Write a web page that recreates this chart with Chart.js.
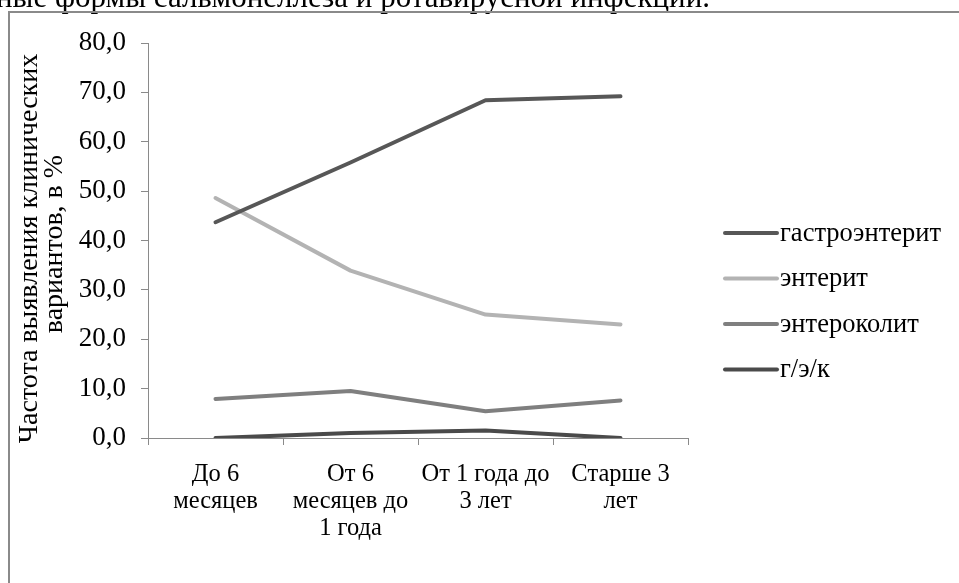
<!DOCTYPE html>
<html lang="ru">
<head>
<meta charset="utf-8">
<title>Клинические варианты по возрасту</title>
<script src="https://cdn.jsdelivr.net/npm/chart.js@4/dist/chart.umd.min.js"></script>
<style>
  html, body { margin: 0; padding: 0; background: #fff; }
  #wrap { position: relative; width: 959px; height: 583px; overflow: hidden; }
  canvas { display: block; }
</style>
</head>
<body>
<div id="wrap"><canvas id="c" width="959" height="583"></canvas></div>
<script>
// Age groups (x categories)
const categories = [
  ["До 6", "месяцев"],
  ["От 6", "месяцев до", "1 года"],
  ["От 1 года до", "3 лет"],
  ["Старше 3", "лет"]
];

// Frequency of clinical variants, %
const gastroenteritis = [43.7, 55.8, 68.4, 69.2];
const enteritis       = [48.6, 33.9, 25.0, 23.0];
const enterocolitis   = [7.9, 9.5, 5.4, 7.6];
const mixedGEK        = [0.0, 1.0, 1.5, 0.0];

const seriesNames = ["гастроэнтерит", "энтерит", "энтероколит", "г/э/к"];
const seriesColors = ["#575757", "#b3b3b3", "#7f7f7f", "#4a4a4a"];

// Y axis ticks
const yTicks = [0, 10, 20, 30, 40, 50, 60, 70, 80];

const yTitle = ["Частота выявления клинических", "вариантов, в %"];
const captionText = "ные формы сальмонеллеза и ротавирусной инфекции.";

const SERIF = "'Liberation Serif', 'DejaVu Serif', serif";

// Page frame and the caption line above it
const pageDecor = {
  id: 'pageDecor',
  beforeDraw(chart) {
    const ctx = chart.ctx;
    ctx.save();
    ctx.fillStyle = '#fff';
    ctx.fillRect(0, 0, chart.width, chart.height);
    ctx.fillStyle = '#000';
    ctx.font = "31px " + SERIF;
    ctx.textBaseline = 'alphabetic';
    ctx.textAlign = 'left';
    ctx.fillText(captionText, -4, 7);
    ctx.strokeStyle = '#8a8a8a';
    ctx.lineWidth = 2;
    ctx.beginPath();
    ctx.moveTo(9, chart.height + 2);
    ctx.lineTo(9, 12);
    ctx.lineTo(chart.width + 2, 12);
    ctx.stroke();
    ctx.restore();
  }
};

// Rotated two-line title of the value axis
const valueAxisTitle = {
  id: 'valueAxisTitle',
  afterDraw(chart) {
    const ctx = chart.ctx;
    const area = chart.chartArea;
    const midY = (area.top + area.bottom) / 2;
    const centers = [[30, midY + 8], [55, midY + 3.5]];
    ctx.save();
    ctx.font = "28px " + SERIF;
    ctx.fillStyle = '#000';
    ctx.textAlign = 'center';
    ctx.textBaseline = 'middle';
    yTitle.forEach((line, i) => {
      ctx.save();
      ctx.translate(centers[i][0], centers[i][1]);
      ctx.rotate(-Math.PI / 2);
      ctx.fillText(line, 0, 0);
      ctx.restore();
    });
    ctx.restore();
  }
};

// Legend drawn at the right side from the datasets
const sideLegend = {
  id: 'sideLegend',
  afterDraw(chart) {
    const ctx = chart.ctx;
    ctx.save();
    ctx.font = "26.5px " + SERIF;
    ctx.textBaseline = 'middle';
    ctx.textAlign = 'left';
    chart.data.datasets.forEach((ds, i) => {
      const y = 233 + i * 45.5;
      ctx.strokeStyle = ds.borderColor;
      ctx.lineWidth = 4;
      ctx.lineCap = 'round';
      ctx.beginPath();
      ctx.moveTo(725, y);
      ctx.lineTo(777, y);
      ctx.stroke();
      ctx.fillStyle = '#000';
      ctx.fillText(ds.label, 780, y + 1);
    });
    ctx.restore();
  }
};

const seriesData = [gastroenteritis, enteritis, enterocolitis, mixedGEK];

new Chart(document.getElementById('c'), {
  type: 'line',
  data: {
    labels: categories,
    datasets: seriesData.map((vals, i) => ({
      label: seriesNames[i],
      data: vals,
      borderColor: seriesColors[i],
      backgroundColor: seriesColors[i],
      borderWidth: 4,
      pointRadius: 0,
      pointHoverRadius: 0,
      tension: 0,
      borderCapStyle: 'round',
      borderJoinStyle: 'round',
      fill: false
    }))
  },
  options: {
    responsive: false,
    animation: false,
    events: [],
    layout: { padding: { top: 43, right: 271, bottom: 0, left: 0 } },
    plugins: {
      legend: { display: false },
      tooltip: { enabled: false },
      title: { display: false }
    },
    scales: {
      x: {
        type: 'category',
        offset: true,
        afterFit(scale) { scale.height = 145; },
        grid: {
          offset: true,
          drawOnChartArea: false,
          drawTicks: true,
          tickLength: 7,
          color: '#8a8a8a',
          lineWidth: 1
        },
        border: { color: '#8a8a8a', width: 1 },
        ticks: {
          color: '#000',
          font: { family: SERIF, size: 24.5, lineHeight: 1.1 },
          padding: 16,
          maxRotation: 0,
          autoSkip: false
        }
      },
      y: {
        min: 0,
        max: 80,
        afterFit(scale) { scale.width = 148; },
        afterBuildTicks(scale) { scale.ticks = yTicks.map(v => ({ value: v })); },
        grid: {
          drawOnChartArea: false,
          drawTicks: true,
          tickLength: 7,
          color: '#8a8a8a',
          lineWidth: 1
        },
        border: { color: '#8a8a8a', width: 1 },
        ticks: {
          color: '#000',
          font: { family: SERIF, size: 27 },
          padding: 15,
          callback: v => v.toFixed(1).replace('.', ',')
        },
        title: { display: false }
      }
    }
  },
  plugins: [pageDecor, valueAxisTitle, sideLegend]
});
</script>
</body>
</html>
